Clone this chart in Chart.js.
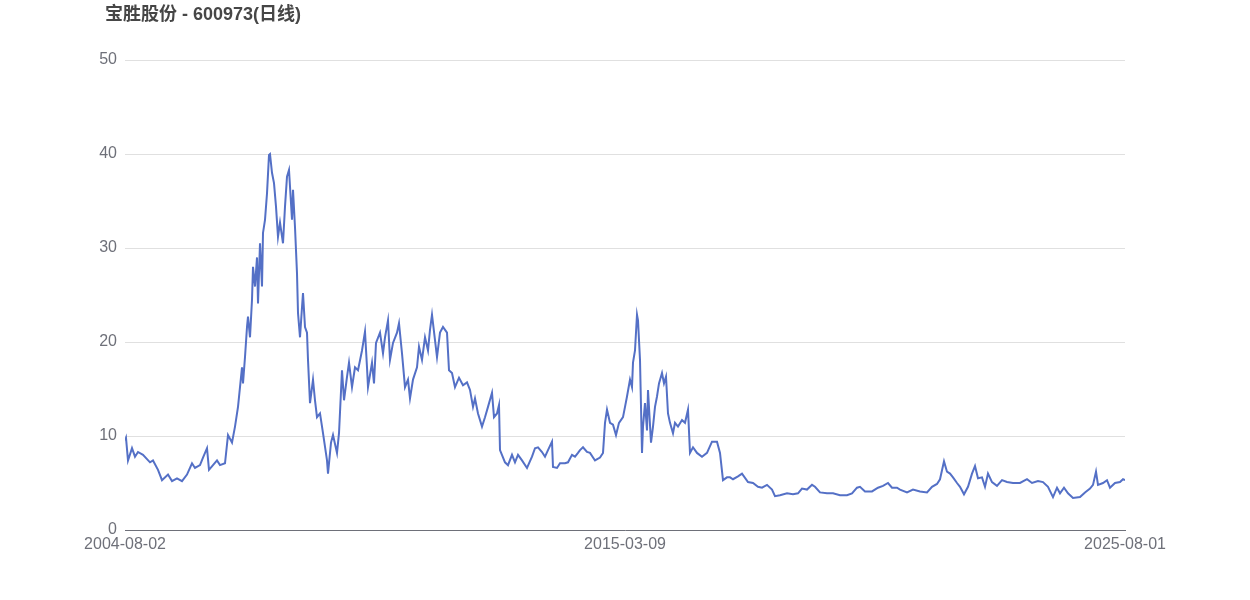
<!DOCTYPE html>
<html>
<head>
<meta charset="utf-8">
<script src="https://cdn.jsdelivr.net/npm/chart.js@4.4.1/dist/chart.umd.min.js"></script>
<style>
    body { margin: 0; background: #fff; }
    #wrap { position: relative; width: 1250px; height: 600px; }
    #title {
        position: absolute; left: 105px; top: -1px;
        font: bold 18px "Liberation Sans", Arial, "Noto Sans CJK SC", sans-serif;
        color: #464646;
    }
</style>
</head>
<body>
<div id="wrap">
    <div id="title">宝胜股份 - 600973(日线)</div>
    <canvas id="myChart" width="1250" height="600"></canvas>
</div>
<script>
// trading session index (from 2004-08-02) and close price
let sessions = [0, 5, 15, 35, 50, 65, 90, 125, 140, 165, 185, 215, 235, 260, 285, 310, 335, 350, 375, 390,
    410, 420, 440, 460, 475, 500, 515, 535, 550, 565, 585, 590, 600, 610, 615, 625, 635, 640, 650, 660,
    665, 675, 685, 690, 700, 710, 720, 725, 735, 745, 755, 765, 775, 790, 800, 810, 820, 835, 840, 850,
    860, 865, 875, 885, 890, 900, 910, 915, 925, 940, 950, 960, 975, 990, 1010, 1015, 1030, 1040, 1060, 1070,
    1085, 1095, 1110, 1120, 1135, 1150, 1165, 1185, 1200, 1210, 1215, 1235, 1245, 1255, 1275, 1290, 1300, 1315, 1325, 1340,
    1360, 1370, 1385, 1400, 1415, 1425, 1440, 1460, 1470, 1485, 1500, 1515, 1525, 1535, 1550, 1560, 1575, 1590, 1610, 1620,
    1635, 1650, 1670, 1690, 1710, 1725, 1740, 1750, 1765, 1785, 1800, 1815, 1835, 1845, 1860, 1870, 1875, 1900, 1915, 1935,
    1950, 1965, 1985, 2010, 2035, 2050, 2065, 2085, 2100, 2115, 2135, 2140, 2160, 2175, 2200, 2215, 2235, 2250, 2265, 2275,
    2290, 2310, 2325, 2350, 2375, 2390, 2400, 2410, 2425, 2440, 2455, 2470, 2490, 2500, 2510, 2525, 2535, 2540, 2550, 2560,
    2565, 2575, 2585, 2590, 2600, 2610, 2615, 2630, 2640, 2650, 2660, 2670, 2685, 2695, 2705, 2715, 2725, 2740, 2750, 2765,
    2785, 2800, 2815, 2825, 2840, 2860, 2885, 2910, 2935, 2960, 2975, 2990, 3010, 3025, 3040, 3065, 3085, 3115, 3140, 3165,
    3185, 3210, 3235, 3250, 3275, 3310, 3340, 3365, 3385, 3410, 3435, 3450, 3475, 3510, 3540, 3575, 3610, 3635, 3660, 3675,
    3700, 3735, 3765, 3790, 3815, 3835, 3860, 3875, 3910, 3940, 3975, 4010, 4035, 4060, 4075, 4095, 4110, 4125, 4140, 4160,
    4175, 4195, 4215, 4235, 4250, 4265, 4285, 4300, 4315, 4335, 4360, 4385, 4410, 4440, 4475, 4510, 4535, 4565, 4590, 4615,
    4640, 4660, 4675, 4695, 4715, 4740, 4775, 4800, 4825, 4840, 4855, 4865, 4890, 4910, 4925, 4950, 4975, 4990, 5000];

let closes = [9.5, 9.8, 7.4, 8.7, 7.8, 8.3, 8.0, 7.2, 7.4, 6.4, 5.3, 5.9, 5.2, 5.5, 5.2, 5.9, 7.1, 6.6, 6.9, 7.7,
    8.7, 6.4, 6.9, 7.4, 6.9, 7.1, 10.1, 9.3, 11.0, 13.1, 17.3, 15.6, 18.4, 21.6, 22.7, 20.5, 24.5, 28.0, 25.9, 29.0,
    24.1, 30.5, 25.9, 31.6, 33.0, 35.8, 39.9, 40.0, 38.0, 36.9, 34.4, 31.2, 32.7, 30.5, 34.4, 37.6, 38.3, 33.0, 36.2, 32.2,
    27.3, 23.1, 20.5, 23.7, 25.2, 21.6, 21.0, 18.1, 13.5, 16.0, 13.8, 12.0, 12.4, 10.3, 7.4, 6.0, 9.3, 10.1, 8.2, 10.3,
    17.0, 13.8, 16.3, 17.8, 15.2, 17.3, 17.0, 19.1, 21.1, 17.3, 15.2, 17.8, 15.6, 19.9, 21.0, 18.8, 20.5, 22.3, 18.1, 19.9,
    21.0, 22.0, 18.8, 15.2, 16.0, 14.0, 16.0, 17.3, 19.5, 18.1, 20.5, 19.1, 21.3, 22.9, 20.2, 18.4, 21.0, 21.6, 21.0, 17.0,
    16.7, 15.2, 16.2, 15.4, 15.7, 14.9, 13.1, 14.0, 12.4, 11.0, 12.0, 13.1, 14.6, 12.0, 12.4, 13.3, 8.5, 7.2, 6.9, 8.0,
    7.2, 8.0, 7.4, 6.6, 7.8, 8.7, 8.8, 8.3, 7.8, 8.5, 9.4, 6.7, 6.6, 7.1, 7.1, 7.2, 8.0, 7.8, 8.2, 8.5,
    8.8, 8.3, 8.2, 7.4, 7.7, 8.2, 11.4, 12.8, 11.4, 11.2, 10.1, 11.4, 12.0, 13.1, 14.2, 16.0, 15.2, 17.8, 19.1, 22.9,
    22.3, 18.1, 8.2, 11.0, 13.5, 10.6, 14.9, 9.3, 11.0, 13.1, 14.2, 15.6, 16.7, 15.6, 16.3, 12.4, 11.4, 10.3, 11.4, 11.0,
    11.7, 11.4, 12.8, 8.2, 8.8, 8.2, 7.8, 8.2, 9.4, 9.4, 8.2, 5.3, 5.6, 5.6, 5.4, 5.7, 6.0, 5.1, 5.0, 4.6,
    4.5, 4.8, 4.3, 3.6, 3.7, 3.9, 3.8, 3.9, 4.4, 4.3, 4.8, 4.6, 4.0, 3.9, 3.9, 3.7, 3.7, 3.9, 4.5, 4.6,
    4.1, 4.1, 4.5, 4.7, 5.0, 4.5, 4.5, 4.3, 4.0, 4.3, 4.1, 4.0, 4.6, 4.9, 5.4, 7.3, 6.2, 6.0, 5.6, 5.0,
    4.6, 3.8, 4.6, 6.0, 6.8, 5.5, 5.6, 4.6, 6.0, 5.1, 4.7, 5.3, 5.1, 5.0, 5.0, 5.4, 5.0, 5.2, 5.1, 4.6,
    3.5, 4.5, 3.9, 4.5, 3.9, 3.4, 3.5, 4.0, 4.4, 4.8, 6.2, 4.8, 5.0, 5.3, 4.5, 5.0, 5.1, 5.4, 5.3];

let tickSessions = [0, 2500, 5000];
let tickLabels = ["2004-08-02", "2015-03-09", "2025-08-01"];
let yTicks = [0, 10, 20, 30, 40, 50];

let points = [];
for (let i = 0; i < sessions.length; i++) {
    points.push({ x: sessions[i], y: closes[i] });
}

const FONT = "'Liberation Sans', Arial, sans-serif";
const ctx = document.getElementById('myChart').getContext('2d');
let chart = new Chart(ctx, {
    type: 'line',
    data: {
        datasets: [{
            data: points,
            borderColor: "#5470c6",
            borderWidth: 2,
            pointRadius: 0,
            tension: 0,
            fill: false
        }]
    },
    options: {
        responsive: false,
        animation: false,
        layout: { padding: { top: 60, right: 125, bottom: 0, left: 0 } },
        plugins: {
            legend: { display: false },
            tooltip: { enabled: false }
        },
        scales: {
            x: {
                type: 'linear',
                min: tickSessions[0],
                max: tickSessions[tickSessions.length - 1],
                afterBuildTicks: (scale) => {
                    scale.ticks = tickSessions.map((v) => ({ value: v }));
                },
                afterFit: (scale) => { scale.height = 70; },
                ticks: {
                    autoSkip: false,
                    maxRotation: 0,
                    padding: 5,
                    color: "#6e7079",
                    font: { family: FONT, size: 16 },
                    callback: (value) => {
                        let i = tickSessions.indexOf(value);
                        return i >= 0 ? tickLabels[i] : "";
                    }
                },
                grid: { display: false, drawTicks: false },
                border: { display: true, color: "#6e7079", width: 1 }
            },
            y: {
                min: yTicks[0],
                max: yTicks[yTicks.length - 1],
                afterBuildTicks: (scale) => {
                    scale.ticks = yTicks.map((v) => ({ value: v }));
                },
                afterFit: (scale) => { scale.width = 125; },
                ticks: {
                    padding: 8,
                    color: "#6e7079",
                    font: { family: FONT, size: 16 }
                },
                grid: { color: "#e0e0e0", drawTicks: false },
                border: { display: false }
            }
        }
    }
});
</script>
</body>
</html>
